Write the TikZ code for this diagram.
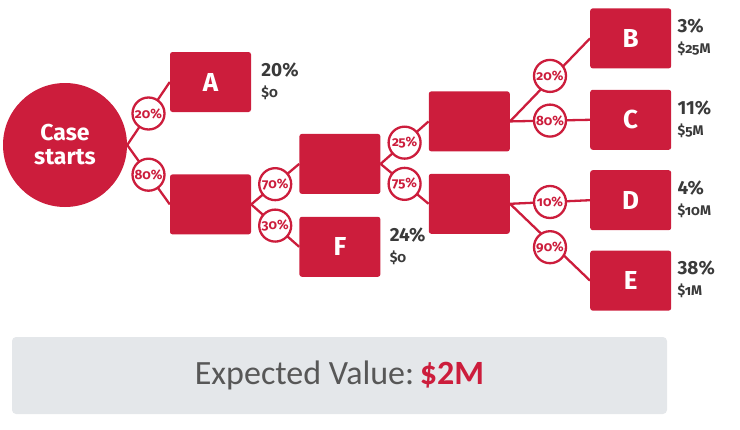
\documentclass[tikz,border=0pt]{standalone}
\usepackage{fontspec}
\setmainfont{Fira Sans}
\newfontfamily\oldnum[Numbers=OldStyle]{Fira Sans}
\newfontfamily\evfont{Carlito}
\usetikzlibrary{positioning}
\definecolor{tree}{RGB}{204,29,60}
\definecolor{ink}{RGB}{58,58,58}
\definecolor{panel}{RGB}{228,231,234}
\newcommand\outcome[2]{{\fontsize{19}{21}\selectfont\bfseries #1}\\{\oldnum\fontsize{14}{21}\selectfont\bfseries #2}}

\begin{document}
\begin{tikzpicture}[x=1pt,y=-1pt,
  node distance=20pt,
  box/.style={fill=tree,rounded corners=2.5pt,minimum width=81pt,minimum height=60pt,
              inner sep=0pt,text=white,font=\fontsize{26}{28}\selectfont\bfseries},
  root/.style={circle,fill=tree,minimum size=124pt,inner sep=0pt,text=white,align=center,
               font=\fontsize{23}{24}\selectfont\bfseries},
  pct/.style={circle,draw=tree,fill=white,line width=2.3pt,minimum size=32pt,inner sep=0pt,
              text=tree,font=\oldnum\fontsize{13.5}{13.5}\selectfont\bfseries},
  res/.style={anchor=west,align=left,text=ink,inner sep=0pt,font=\fontsize{14}{21}\selectfont},
  ln/.style={draw=tree,line width=2.3pt}
]
\useasboundingbox (0,0) rectangle (740,429);

\node[root] (start) at (65,145) {Case\\starts};

\node[box] (A) at (210.5,82) {A};
\node[box,below=62pt of A] (n1) {};
\node[box,right=48pt of n1,yshift=40.5pt] (n2) {};
\node[box,below=22.5pt of n2] (F) {F};
\node[box,right=48pt of n2,yshift=42.5pt] (n3) {};
\node[box,below=22pt of n3] (n4) {};
\node[box,right=80pt of n3,yshift=83pt] (B) {B};
\node[box,below=21pt of B] (C) {C};
\node[box,below=20pt of C] (D) {D};
\node[box,below=20pt of D] (E) {E};

\node[res,right=10pt of A,yshift=1pt] (rA) {\outcome{20\%}{\$0}};
\node[res,right=6pt of B,yshift=1pt] (rB) {\outcome{3\%}{\$25M}};
\node[res,right=6pt of C,yshift=1pt] (rC) {\outcome{11\%}{\$5M}};
\node[res,right=6pt of D,yshift=1pt] (rD) {\outcome{4\%}{\$10M}};
\node[res,right=6pt of E,yshift=1pt] (rE) {\outcome{38\%}{\$1M}};
\node[res,right=9pt of F,yshift=1pt] (rF) {\outcome{24\%}{\$0}};

\draw[ln] (start.east) -- node[pct,pos=.5] (p1) {20\%} (A.west);
\draw[ln] (start.east) -- node[pct,pos=.5] (p2) {80\%} (n1.west);
\draw[ln] (n1.east) -- node[pct,pos=.5] (p3) {70\%} (n2.west);
\draw[ln] (n1.east) -- node[pct,pos=.5] (p4) {30\%} (F.west);
\draw[ln] (n2.east) -- node[pct,pos=.5] (p5) {25\%} (n3.west);
\draw[ln] (n2.east) -- node[pct,pos=.5] (p6) {75\%} (n4.west);
\draw[ln] (n3.east) -- node[pct,pos=.5,yshift=4pt] (p7) {20\%} (B.west);
\draw[ln] (n3.east) -- node[pct,pos=.5] (p8) {80\%} (C.west);
\draw[ln] (n4.east) -- node[pct,pos=.5] (p9) {10\%} (D.west);
\draw[ln] (n4.east) -- node[pct,pos=.5,yshift=-5pt] (p10) {90\%} (E.west);

\node[fill=panel,rounded corners=4pt,minimum width=655pt,minimum height=77pt,
      font=\evfont\fontsize{34}{36}\selectfont] (ev) at (339.5,375.5)
  {\color{ink!85}Expected Value:\,\textcolor{tree}{\bfseries\$2M}};
\end{tikzpicture}
\end{document}
